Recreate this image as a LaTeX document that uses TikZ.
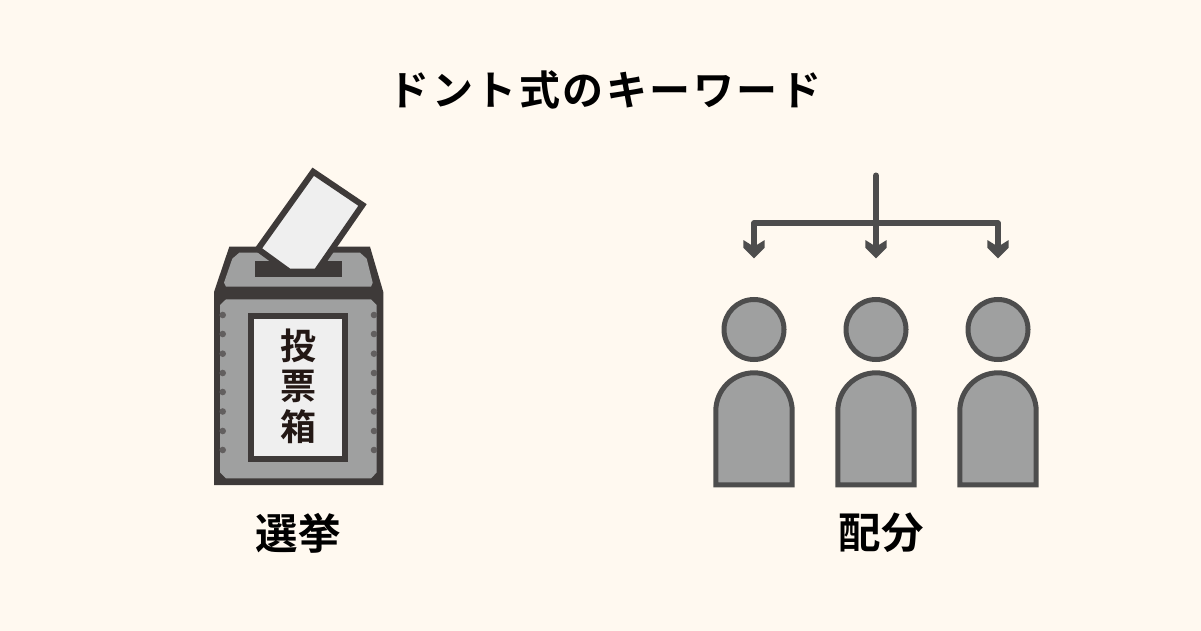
\documentclass[tikz,border=0pt]{standalone}
\usepackage{fontspec}
\newfontfamily\jpb{Noto Sans CJK JP Bold}[LetterSpace=6]
\newfontfamily\jpc{Noto Sans CJK JP Bold}
\definecolor{bgc}{HTML}{FFF9F0}
\definecolor{grayf}{HTML}{9FA0A0}
\definecolor{darkb}{HTML}{3E3A39}
\definecolor{darkp}{HTML}{4D4D4D}
\definecolor{paper}{HTML}{EFEFEF}
\definecolor{stud}{HTML}{625F5F}
\definecolor{inkl}{HTML}{231815}
\tikzset{
  title/.style={font=\jpb\fontsize{41}{41}\selectfont,text=black,inner sep=0pt},
  caption/.style={font=\jpc\fontsize{42.5}{43}\selectfont,text=black,inner sep=0pt},
  boxlabel/.style={font=\jpc\fontsize{36}{40.5}\selectfont,text=inkl,inner sep=0pt,align=center},
  personhead/.style={circle,draw=darkp,fill=grayf,line width=5pt,minimum size=60pt,inner sep=0pt},
  personbody/.style={draw=darkp,fill=grayf,line width=5pt,line join=miter},
  conn/.style={draw=darkp,line width=6pt,line join=round},
  tiphead/.style={fill=darkp},
  stud dot/.style={circle,fill=stud,minimum size=6.6pt,inner sep=0pt}
}
\begin{document}
\begin{tikzpicture}[x=1pt,y=-1pt]
\useasboundingbox (0,0) rectangle (1201,631);
\fill[bgc] (0,0) rectangle (1201,631);
\node[title] (ttl) at (605,90) {ドント式のキーワード};
% ballot box
\fill[darkb] (229.3,246.7) -- (370,246.7) -- (383.3,292) -- (383.3,485) -- (214,485) -- (214,292) -- cycle;
\fill[grayf] (239.3,252.7) -- (360,252.7) -- (366.7,258.7) -- (372.7,282.7) -- (371,286.7) -- (226,286.7) -- (224,282.7) -- (232.3,258.7) -- cycle;
\fill[darkb] (255,261) rectangle (341.7,276.7);
\fill[grayf] (226,299.3) -- (371,299.3) -- (376.7,305) -- (376.7,472.5) -- (371,478.3) -- (226,478.3) -- (220,472.5) -- (220,305) -- cycle;
\foreach \i/\yy in {1/315,2/334,3/353.7,4/373,5/392,6/411.5,7/431,8/450}{
  \node[stud dot] (sl\i) at (222.7,\yy) {};
  \node[stud dot] (sr\i) at (374,\yy) {};
}
\draw[darkb,line width=6pt,fill=paper,line join=miter] (251.3,316) rectangle (345.3,458.7);
\node[boxlabel] (lbl) at (298,386) {投\\票\\箱};
% ballot paper
\draw[darkb,line width=6pt,fill=paper,line join=miter,miter limit=4]
  (313.2,171.7) -- (362.5,205) -- (316.5,271.5) -- (289,271.5) -- (258,249) -- cycle;
\fill[darkb] (255,268.7) rectangle (341.7,276.7);
\node[caption] (cap1) at (298,533) {選挙};
% people
\foreach \i/\xx in {1/754,2/876,3/998}{
  \node[personhead] (head\i) at (\xx,329.5) {};
  \draw[personbody] (\xx-38.2,484.8) -- (\xx-38.2,411) arc[start angle=180,end angle=360,radius=38.2] -- (\xx+38.2,484.8) -- cycle;
  \coordinate (tip\i) at (\xx,250);
  \fill[tiphead] (\xx-10.7,240) -- (\xx,246.7) -- (\xx+10.7,240) -- (\xx+10.7,247.7) -- (\xx,258.4) -- (\xx-10.7,247.7) -- cycle;
}
\coordinate (src) at (876,175.5);
\coordinate (fork) at (876,223.3);
\draw[conn,line cap=round] (src) -- (fork);
\draw[conn] (fork) -- (tip2);
\draw[conn] (tip1) -- (tip1 |- fork) -- (tip3 |- fork) -- (tip3);
\node[caption] (cap2) at (881,533) {配分};
\end{tikzpicture}
\end{document}
